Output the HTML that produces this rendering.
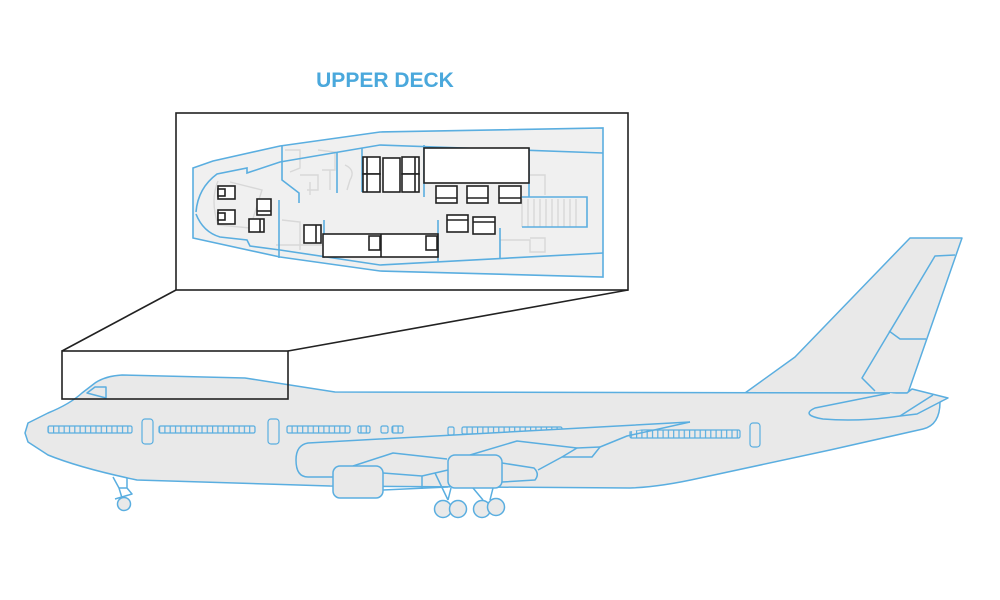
<!DOCTYPE html>
<html><head><meta charset="utf-8"><style>
html,body{margin:0;padding:0;background:#fff;}
svg{display:block}
</style></head><body>
<svg width="1000" height="600" viewBox="0 0 1000 600" xmlns="http://www.w3.org/2000/svg">
<defs>
<pattern id="win" x="0" y="0" width="5.3" height="20" patternUnits="userSpaceOnUse">
<rect x="0" y="0" width="5.3" height="20" fill="#e9e9e9"/>
<line x1="0.6" y1="0" x2="0.6" y2="20" stroke="#5aaee0" stroke-width="1.2"/>
</pattern>
</defs>
<g fill="none" stroke="#5aaee0" stroke-width="1.5" stroke-linejoin="round">
<!-- tail fin -->
<path d="M745 393 L795 357 L910 238 L962 238 L908 393 Z" fill="#e9e9e9"/>
<path d="M955 255 L935 256 L862 378 L875 391"/>
<path d="M889 331 L900 339 L926 339"/>
<!-- fuselage -->
<path d="M25 433 L28 423 L48 413 Q70 404 82 393 L95 383 Q105 376 122 375 L245 378 L335 392 L907 393 L912 389 L948 398 L940 402 Q940 425 923 429 L830 450 L700 478 Q660 487 630 488 L330 486 L137 480 Q80 468 48 455 L28 442 Z" fill="#e9e9e9"/>
<path d="M87 393 L95 387 L106 387 L106 398 Z" />
<!-- stabilizer -->
<path d="M890 393 L815 408 Q800 415 823 419 Q860 422 900 416 L917 414 L942 401" fill="#e9e9e9"/>
<path d="M900 416 L933 395"/>
<!-- windows -->
<g fill="url(#win)" stroke-width="1.2">
<rect x="48" y="426" width="84" height="7" rx="1.5"/>
<rect x="159" y="426" width="96" height="7" rx="1.5"/>
<rect x="287" y="426" width="63" height="7" rx="1.5"/>
<rect x="358" y="426" width="12" height="7" rx="1.5"/>
<rect x="392" y="426" width="11" height="7" rx="1.5"/>
<rect x="462" y="427" width="100" height="7" rx="1.5"/>
<rect x="630" y="430" width="110" height="8" rx="1.5"/>
</g>
<g fill="#e9e9e9" stroke-width="1.2">
<rect x="381" y="426" width="7" height="7" rx="1.5"/>
<rect x="448" y="427" width="6" height="8" rx="1.5"/>
<rect x="142" y="419" width="11" height="25" rx="3"/>
<rect x="268" y="419" width="11" height="25" rx="3"/>
<rect x="750" y="423" width="10" height="24" rx="3"/>
</g>
<!-- wing -->
<path d="M690 422 L308 443 Q296 445 296 460 Q296 477 308 477 L333 477" fill="#e9e9e9"/>
<path d="M690 422 L627 436 L600 447 L592 457 L562 457 L538 470" />
<path d="M577 448 L600 447"/>
<path d="M353 466 L393 453 L447 459"/>
<path d="M470 455 L517 441 L577 448 L562 457"/>
<path d="M502 463 L534 468 Q540 474 535 480 L502 482" fill="#e9e9e9"/>
<path d="M383 473 L422 476 L448 470"/>
<path d="M422 476 L422 489"/>
<path d="M383 490 L448 487"/>
<rect x="333" y="466" width="50" height="32" rx="7" fill="#e9e9e9"/>
<rect x="448" y="455" width="54" height="33" rx="7" fill="#e9e9e9"/>
<!-- gear -->
<path d="M435 473 L448 500 M451 488 L448 500 M473 488 L483 500 M493 488 L490 500"/>
<circle cx="443" cy="509" r="8.5" fill="#e9e9e9"/>
<circle cx="458" cy="509" r="8.5" fill="#e9e9e9"/>
<circle cx="482" cy="509" r="8.5" fill="#e9e9e9"/>
<circle cx="496" cy="507" r="8.5" fill="#e9e9e9"/>
<path d="M113 477 L119 488 L127 488 L127 478 M119 488 L122 498 M127 488 L132 494 L115 499"/>
<circle cx="124" cy="504" r="6.5" fill="#e9e9e9"/>
</g>
<!-- zoom boxes -->
<g fill="none" stroke="#222" stroke-width="1.6">
<rect x="62" y="351" width="226" height="48"/>
<path d="M62 351 L176 290 M288 351 L628 290"/>
<rect x="176" y="113" width="452" height="177" fill="#fff"/>
</g>
<!-- deck -->
<path d="M193 168 L213 161 L280 146 L380 132 L603 128 L603 277 L380 271 L280 257 L193 238 Z" fill="#f0f0f0" stroke="#5aaee0" stroke-width="1.6"/>
<g fill="none" stroke="#d8d8d8" stroke-width="1.4">
<path d="M218 181 Q210 200 218 225 L250 228 L262 190 L230 182"/>
<path d="M285 150 L300 150 L300 168 L290 172 M300 175 L318 175 L318 190 L307 190 M318 150 L335 152 L335 170 L322 170"/>
<path d="M310 182 L310 195 M330 170 L330 190 M345 165 Q356 170 350 180 L347 190"/>
<path d="M282 220 L300 222 L300 250 M276 245 L324 245"/>
<path d="M530 175 L545 175 L545 195 M500 240 L530 240 L530 252 L545 252 L545 238 L530 238 M522 199 L522 227 M528 199 L528 227 M534 199 L534 227 M540 199 L540 227 M546 199 L546 227 M552 199 L552 227 M558 199 L558 227 M564 199 L564 227 M570 199 L570 227 M576 199 L576 227"/>
</g>
<g fill="none" stroke="#5aaee0" stroke-width="1.6">
<path d="M196 212 Q198 188 217 174 L247 168 L247 173 L280 162 L380 145 L603 153"/>
<path d="M196 214 Q203 232 220 237 L247 240 L250 246 L280 250 L380 265 L603 253"/>
<path d="M282 146 L282 180 L299 193 L299 203"/>
<path d="M337 152 L337 193 M362 148 L362 192 M424 145 L424 197 M529 148 L529 197"/>
<path d="M522 197 L587 197 L587 227 L522 227"/>
<path d="M279 200 L279 258 M324 220 L324 258 M438 220 L438 262 M500 228 L500 258"/>
</g>
<g fill="#fff" stroke="#222" stroke-width="1.6">
<rect x="363" y="157" width="17" height="17"/><rect x="363" y="174" width="17" height="18"/>
<path d="M367 157 L367 192" fill="none"/>
<rect x="383" y="158" width="17" height="34"/>
<rect x="402" y="157" width="17" height="17"/><rect x="402" y="174" width="17" height="18"/>
<path d="M415 157 L415 192" fill="none"/>
<rect x="424" y="148" width="105" height="35"/>
<rect x="436" y="186" width="21" height="17"/><path d="M436 198 L457 198" fill="none"/>
<rect x="467" y="186" width="21" height="17"/><path d="M467 198 L488 198" fill="none"/>
<rect x="499" y="186" width="22" height="17"/><path d="M499 198 L521 198" fill="none"/>
<rect x="447" y="215" width="21" height="17"/><path d="M447 220 L468 220" fill="none"/>
<rect x="473" y="217" width="22" height="17"/><path d="M473 222 L495 222" fill="none"/>
<rect x="323" y="234" width="115" height="23"/><path d="M381 234 L381 257" fill="none"/>
<rect x="369" y="236" width="11" height="14"/><rect x="426" y="236" width="11" height="14"/>
<rect x="304" y="225" width="17" height="18"/><path d="M316 225 L316 243" fill="none"/>
<rect x="218" y="186" width="17" height="13"/><rect x="218" y="189" width="7" height="7"/>
<rect x="218" y="210" width="17" height="14"/><rect x="218" y="213" width="7" height="7"/>
<rect x="257" y="199" width="14" height="16"/><path d="M257 211 L271 211" fill="none"/>
<rect x="249" y="219" width="15" height="13"/><path d="M260 219 L260 232" fill="none"/>
</g>
<text x="385" y="87" text-anchor="middle" font-family="Liberation Sans, sans-serif" font-weight="bold" font-size="21" fill="#4aa8dc">UPPER DECK</text>
</svg>
</body></html>
